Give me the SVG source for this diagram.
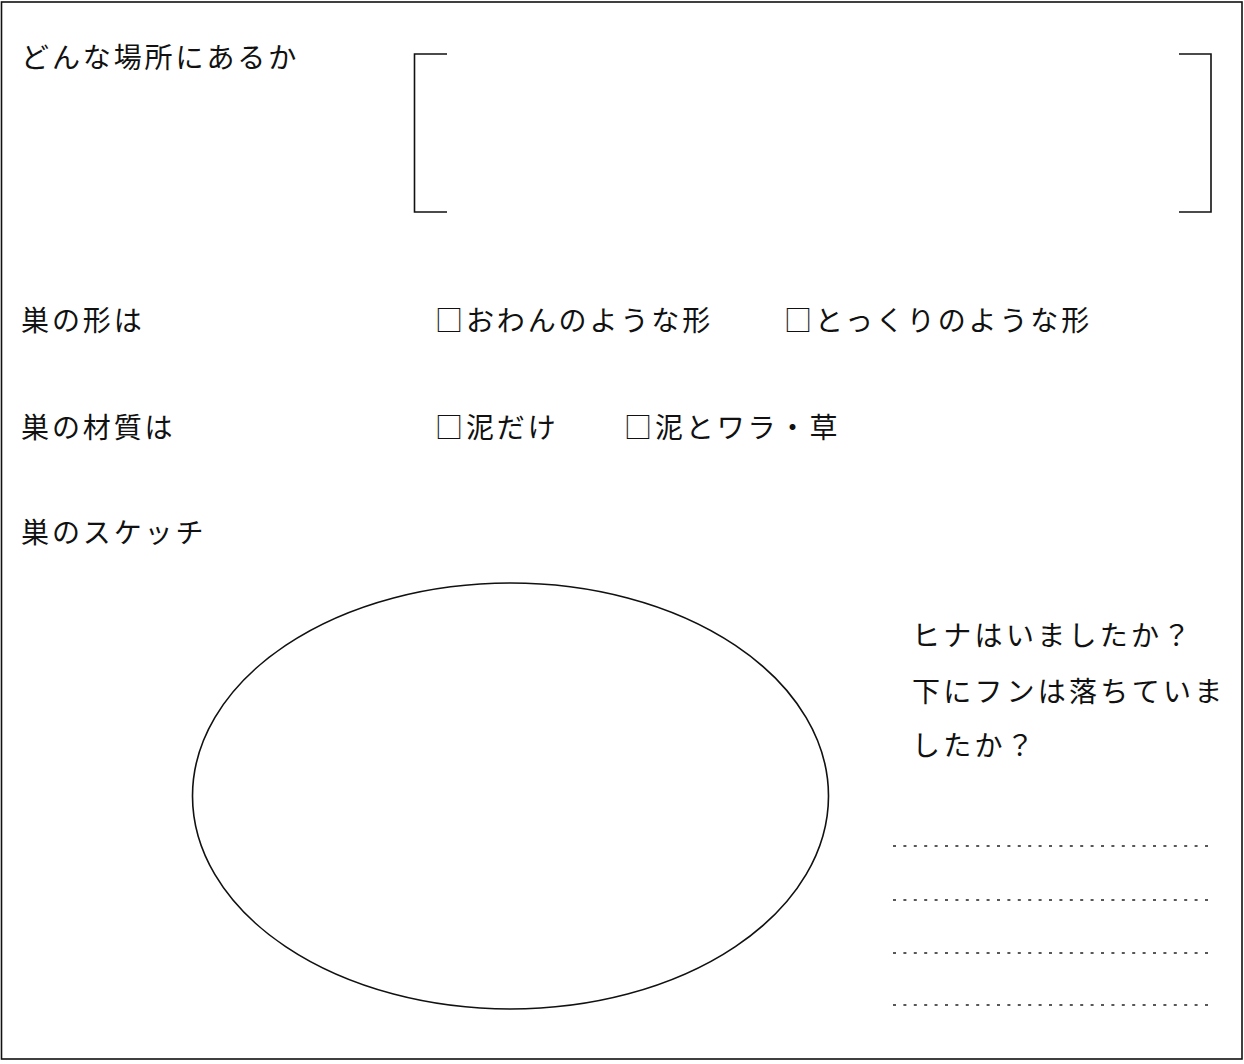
<svg xmlns="http://www.w3.org/2000/svg" width="1244" height="1064" viewBox="0 0 1244 1064">
<style>
.t{font-family:"Noto Sans CJK JP","Noto Sans CJK SC",sans-serif;font-size:28px;fill:#111;letter-spacing:2.9px}
.r{letter-spacing:3.3px}
.ln{fill:none;stroke:#111;stroke-width:1.6}
.dot{stroke:#222;stroke-width:1.6;stroke-dasharray:3 7.4;fill:none}
</style>
<rect x="1.5" y="2" width="1240.5" height="1057" class="ln" stroke-width="2"/>
<g id="q-location">
<text class="t" x="21" y="68">どんな場所にあるか</text>
<path class="ln" d="M447 54 H414.5 V212 H447"/>
<path class="ln" d="M1179 54 H1211 V212 H1179"/>
</g>
<g id="q-shape">
<text class="t" x="21" y="331">巣の形は</text>
<text class="t" x="435" y="331">□おわんのような形</text>
<text class="t" x="784" y="331">□とっくりのような形</text>
</g>
<g id="q-material">
<text class="t" x="21" y="438">巣の材質は</text>
<text class="t" x="435" y="438">□泥だけ</text>
<text class="t" x="624" y="438">□泥とワラ・草</text>
</g>
<g id="q-sketch">
<text class="t" x="21" y="543">巣のスケッチ</text>
<ellipse class="ln" cx="510.5" cy="796" rx="318" ry="213"/>
</g>
<g id="q-chicks">
<text class="t r" x="912" y="646">ヒナはいましたか？</text>
<text class="t r" x="912" y="702">下にフンは落ちていま</text>
<text class="t r" x="912" y="756">したか？</text>
<path class="dot" d="M893 846 H1210 M893 900 H1210 M893 953 H1210 M893 1005 H1210"/>
</g>
</svg>
